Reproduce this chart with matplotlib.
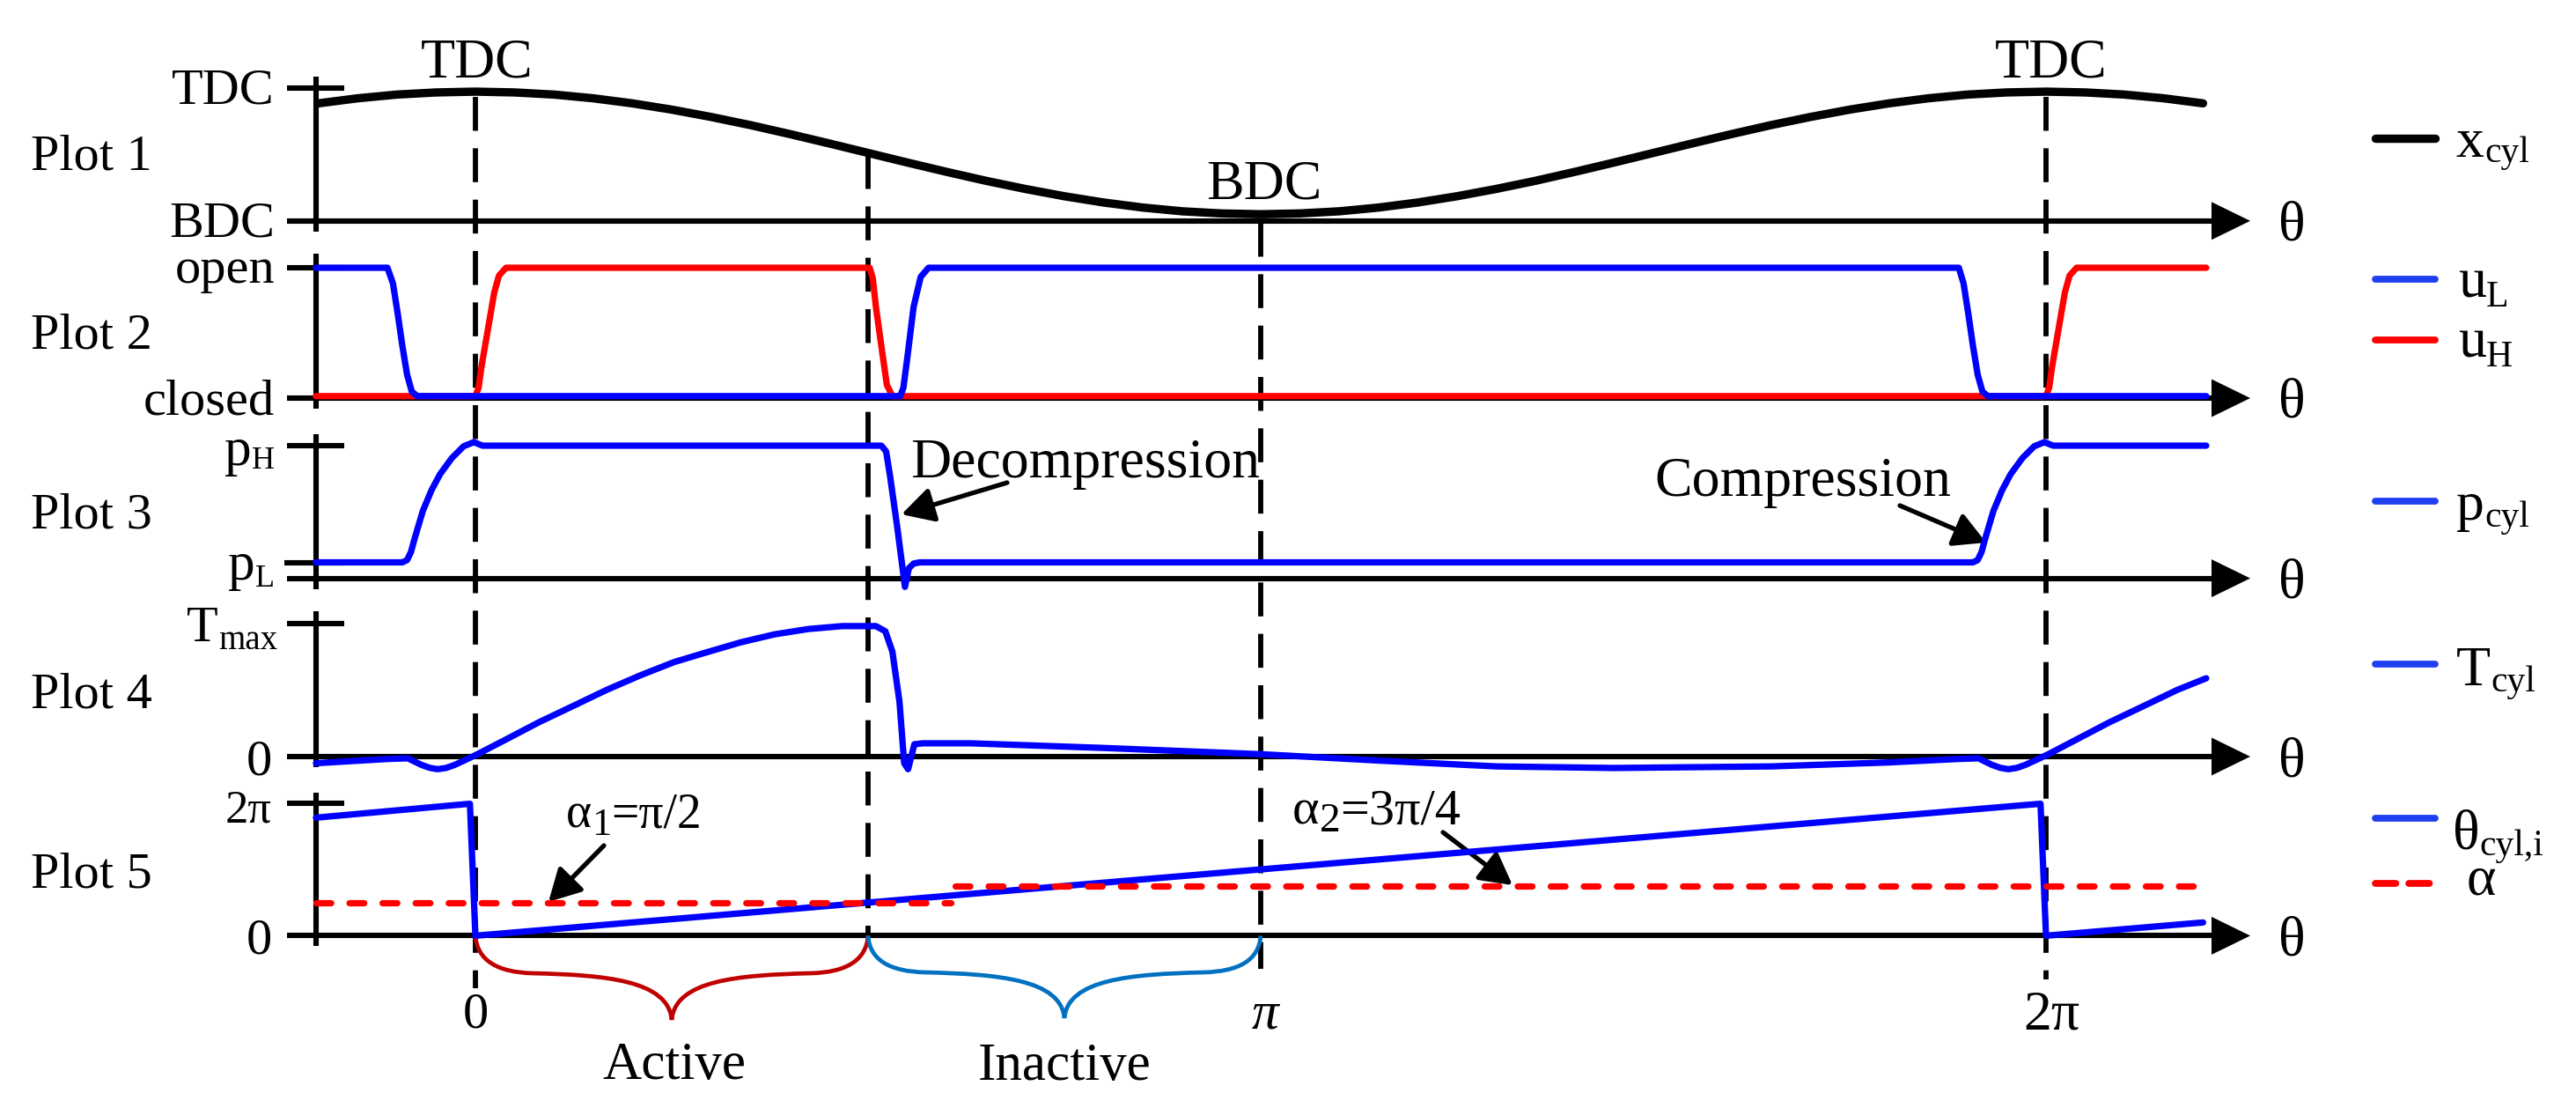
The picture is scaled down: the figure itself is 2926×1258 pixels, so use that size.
import matplotlib
matplotlib.use('Agg')
import matplotlib.pyplot as plt
from matplotlib.path import Path
from matplotlib.patches import PathPatch, Polygon
import matplotlib.transforms as mtrans

FONT = ['Liberation Serif', 'DejaVu Serif']
plt.rcParams['font.family'] = FONT

# ---------------- data (theta in units of pi) ----------------
xcyl_t = [-0.2, -0.15, -0.1, -0.05, 0.0, 0.05, 0.1, 0.15, 0.2, 0.25, 0.3, 0.35, 0.4, 0.45,
          0.5, 0.55, 0.6, 0.65, 0.7, 0.75, 0.8, 0.85, 0.9, 0.95, 1.0, 1.05, 1.1, 1.15, 1.2,
          1.25, 1.3, 1.35, 1.4, 1.45, 1.5, 1.55, 1.6, 1.65, 1.7, 1.75, 1.8, 1.85, 1.9, 1.95,
          2.0, 2.05, 2.1, 2.15, 2.2]
xcyl_v = [0.882, 0.920, 0.948, 0.964, 0.970, 0.964, 0.948, 0.920, 0.882, 0.835, 0.780, 0.719,
          0.652, 0.582, 0.510, 0.438, 0.368, 0.301, 0.240, 0.185, 0.138, 0.100, 0.072, 0.056,
          0.050, 0.056, 0.072, 0.100, 0.138, 0.185, 0.240, 0.301, 0.368, 0.438, 0.510, 0.582,
          0.652, 0.719, 0.780, 0.835, 0.882, 0.920, 0.948, 0.964, 0.970, 0.964, 0.948, 0.920,
          0.882]

uL_t = [-0.203, -0.112, -0.105, -0.099, -0.093, -0.087, -0.081, -0.074,
        0.541, 0.545, 0.550, 0.558, 0.567, 0.577,
        1.889, 1.895, 1.901, 1.907, 1.913, 1.919, 1.926, 2.204]
uL_v = [1.0, 1.0, 0.88, 0.65, 0.40, 0.18, 0.05, 0.015,
        0.015, 0.08, 0.31, 0.70, 0.93, 1.0,
        1.0, 0.88, 0.65, 0.40, 0.18, 0.05, 0.015, 0.015]

uH_t = [-0.203, 0.0, 0.004, 0.008, 0.016, 0.024, 0.030, 0.039,
        0.502, 0.506, 0.510, 0.519, 0.524, 0.531,
        2.0, 2.004, 2.008, 2.016, 2.024, 2.030, 2.039, 2.204]
uH_v = [0.015, 0.015, 0.08, 0.25, 0.53, 0.81, 0.94, 1.0,
        1.0, 0.92, 0.70, 0.31, 0.10, 0.015,
        0.015, 0.08, 0.25, 0.53, 0.81, 0.94, 1.0, 1.0]

p_t = [-0.203, -0.093, -0.087, -0.082, -0.078, -0.067, -0.056, -0.045, -0.030, -0.015, -0.002,
       0.009, 0.517, 0.523, 0.528, 0.537, 0.547, 0.552, 0.558, 0.566,
       1.907, 1.913, 1.918, 1.922, 1.933, 1.944, 1.955, 1.970, 1.985, 1.998, 2.009, 2.204]
p_v = [0.0, 0.0, 0.02, 0.09, 0.19, 0.44, 0.617, 0.756, 0.894, 0.995, 1.03,
       1.0, 1.0, 0.95, 0.74, 0.31, -0.21, -0.05, -0.01, 0.0,
       0.0, 0.02, 0.09, 0.19, 0.44, 0.617, 0.756, 0.894, 0.995, 1.03, 1.0, 1.0]

T_t = [-0.203, -0.112, -0.086, -0.069, -0.058, -0.048, -0.037, -0.026, 0.0016, 0.038, 0.081,
       0.124, 0.167, 0.21, 0.253, 0.297, 0.338, 0.381, 0.424, 0.467, 0.51, 0.522, 0.531,
       0.540, 0.546, 0.551, 0.559, 0.57, 0.631, 0.8, 1.0, 1.15, 1.3, 1.45, 1.65, 1.8,
       1.888, 1.914, 1.931, 1.942, 1.952, 1.963, 1.974, 2.002, 2.038, 2.081, 2.124, 2.167,
       2.204]
T_v = [-0.05, -0.018, -0.013, -0.062, -0.085, -0.095, -0.085, -0.062, 0.015, 0.126, 0.259,
       0.38, 0.502, 0.612, 0.712, 0.79, 0.861, 0.921, 0.961, 0.983, 0.983, 0.944, 0.79,
       0.413, -0.05, -0.095, 0.093, 0.10, 0.10, 0.065, 0.018, -0.03, -0.074, -0.086, -0.074,
       -0.044, -0.018, -0.013, -0.062, -0.085, -0.095, -0.085, -0.062, 0.015, 0.126, 0.259,
       0.38, 0.502, 0.59]

th_t = [-0.203, -0.007, 0.0, 1.0, 1.993, 2.0, 2.2]
th_v = [1.78, 1.99, 0.0, 1.0, 1.99, 0.0, 0.2]

alpha1_t = [-0.203, 0.605]
alpha1_v = [0.5, 0.5]
alpha2_t = [0.611, 2.204]
alpha2_v = [0.75, 0.75]

plot_names = ['Plot 1', 'Plot 2', 'Plot 3', 'Plot 4', 'Plot 5']
marks_t = [0.0, 0.5, 1.0, 2.0]

# ---------------- layout ----------------
W, H, DPI = 2926, 1258, 200
X0, U = 540.0, 892.0          # pixel x of theta=0 and pixels per pi
BLUE, RED, BLK = '#0000FF', '#FF0000', 'black'
LEG_BLUE = '#1f3ff0'
CLW = 2.6      # curve line width
ALW = 2.2      # axis line width
XLW = 3.4      # x_cyl line width

fig = plt.figure(figsize=(W / DPI, H / DPI), dpi=DPI)
ov = fig.add_axes([0, 0, 1, 1])
ov.set_xlim(0, W)
ov.set_ylim(H, 0)
ov.axis('off')
ov.patch.set_alpha(0)

xlo, xhi = (0 - X0) / U, (W - X0) / U


def px(t):
    return X0 + U * t


def make_ax(yA, vA, yB, vB):
    fA, fB = 1 - yA / H, 1 - yB / H
    scale = (vB - vA) / (fB - fA)
    lo = vA - fA * scale
    ax = fig.add_axes([0, 0, 1, 1])
    ax.set_xlim(xlo, xhi)
    ax.set_ylim(lo, lo + scale)
    ax.axis('off')
    ax.patch.set_alpha(0)
    return ax


ax1 = make_ax(250.8, 0, 99.5, 1)
ax2 = make_ax(452, 0, 304, 1)
ax3 = make_ax(638.5, 0, 506, 1)
ax4 = make_ax(859, 0, 708.3, 1)
ax5 = make_ax(1062.4, 0, 911.8, 2)

# axes frames
axis_y = [250.8, 452, 656.6, 859, 1062.4]
tick_y = [99.5, 304, 506, 708.3, 911.8]
vspan = [(87, 263), (288, 464), (493, 669), (694, 871), (900, 1074)]
for ay, ty, (v0, v1) in zip(axis_y, tick_y, vspan):
    ov.plot([326, 2513], [ay, ay], color=BLK, lw=ALW, solid_capstyle='butt', zorder=2)
    ov.plot([326, 391], [ty, ty], color=BLK, lw=ALW, solid_capstyle='butt', zorder=2)
    ov.plot([359, 359], [v0, v1], color=BLK, lw=ALW, solid_capstyle='butt', zorder=2)
    ov.add_patch(Polygon([(2512, ay - 21.5), (2556, ay), (2512, ay + 21.5)],
                         closed=True, facecolor=BLK, edgecolor='none', zorder=2))
    ov.text(2603, ay + 22, 'θ', fontsize=23, ha='center', va='baseline')
# p_L tick
ov.plot([323, 391], [638.5, 638.5], color=BLK, lw=ALW, solid_capstyle='butt', zorder=2)

# vertical dashed guide lines
blend = mtrans.blended_transform_factory(ax1.transData, ov.transData)
dash_span = {0.0: (110, 1122), 0.5: (176, 1062), 1.0: (253, 1100), 2.0: (110, 1112)}
for t in marks_t:
    y0, y1 = dash_span[t]
    ov.plot([t, t], [y0, y1], transform=blend, color=BLK, lw=2.1,
            dashes=(6.6, 3.4), solid_capstyle='butt', zorder=1.5)

# curves
ax1.plot(xcyl_t, xcyl_v, color=BLK, lw=XLW, solid_capstyle='round', clip_on=False, zorder=3)
ax2.plot(uH_t, uH_v, color=RED, lw=CLW, solid_capstyle='round', clip_on=False, zorder=3)
ax2.plot(uL_t, uL_v, color=BLUE, lw=CLW, solid_capstyle='round', clip_on=False, zorder=4)
ax3.plot(p_t, p_v, color=BLUE, lw=CLW, solid_capstyle='round', clip_on=False, zorder=3)
ax4.plot(T_t, T_v, color=BLUE, lw=CLW, solid_capstyle='round', clip_on=False, zorder=3)
ax5.plot(th_t, th_v, color=BLUE, lw=CLW, solid_capstyle='round', clip_on=False, zorder=3)
for at, av in ((alpha1_t, alpha1_v), (alpha2_t, alpha2_v)):
    ax5.plot(at, av, color=RED, lw=2.6, dashes=(2.3, 2.9), dash_capstyle='round',
             clip_on=False, zorder=4)

renderer = fig.canvas.get_renderer()


def rich(x, y, parts, ha='left'):
    objs, widths = [], []
    for s, size, dy in parts:
        t = ov.text(0, y + dy, s, fontsize=size, ha='left', va='baseline')
        widths.append(t.get_window_extent(renderer).width)
        objs.append(t)
    total = sum(widths)
    cur = x - total if ha == 'right' else (x - total / 2 if ha == 'center' else x)
    for t, w in zip(objs, widths):
        t.set_x(cur)
        cur += w


# left tick labels
ov.text(312, 118, 'TDC', fontsize=21, ha='right', va='baseline')
ov.text(312, 268.6, 'BDC', fontsize=21, ha='right', va='baseline')
ov.text(312, 321, 'open', fontsize=21, ha='right', va='baseline')
ov.text(312, 470.6, 'closed', fontsize=21, ha='right', va='baseline')
rich(312, 528, [('p', 22, 0), ('H', 13, 4)], ha='right')
rich(312, 658, [('p', 22, 0), ('L', 13, 8)], ha='right')
rich(315, 728, [('T', 21, 0), ('max', 14, 9)], ha='right')
ov.text(309, 879, '0', fontsize=21, ha='right', va='baseline')
ov.text(309, 933, '2π', fontsize=19, ha='right', va='baseline')
ov.text(309, 1082.6, '0', fontsize=21, ha='right', va='baseline')

# plot names
for name, yb in zip(plot_names, [192.8, 396, 600, 803.5, 1007]):
    ov.text(35, yb, name, fontsize=21, ha='left', va='baseline')

# top labels
ov.text(542, 87, 'TDC', fontsize=23, ha='center', va='baseline')
ov.text(2330, 87, 'TDC', fontsize=23, ha='center', va='baseline')
ov.text(1436, 226, 'BDC', fontsize=23, ha='center', va='baseline')

# legend
leg = [(156.7, BLK, XLW, None, [('x', 23, 0), ('cyl', 15, 6)], 2790, 178),
       (317, LEG_BLUE, 2.8, None, [('u', 23, 0), ('L', 15, 10)], 2792, 338),
       (386.4, RED, 2.8, None, [('u', 23, 0), ('H', 15, 10)], 2792, 406),
       (568.8, LEG_BLUE, 2.8, None, [('p', 23, 0), ('cyl', 15, 8)], 2790, 590),
       (754.4, LEG_BLUE, 2.8, None, [('T', 23, 0), ('cyl', 15, 7)], 2790, 778),
       (929.4, LEG_BLUE, 2.8, None, [('θ', 23, 0), ('cyl,i', 15, 8)], 2786, 963),
       (1002.8, RED, 2.8, (3.0, 1.9), [('α', 23, 0)], 2802, 1015.5)]
for ly, col, lw, dsh, parts, tx, tb in leg:
    kw = dict(dashes=dsh, dash_capstyle='round') if dsh else {}
    ov.plot([2698, 2766], [ly, ly], color=col, lw=lw, solid_capstyle='round', **kw)
    rich(tx, tb, parts)

# annotations
AP = dict(arrowstyle='-|>,head_length=0.55,head_width=0.3', color=BLK, lw=1.9,
          shrinkA=0, shrinkB=0, mutation_scale=20)
ov.text(1034, 542, 'Decompression', fontsize=23, ha='left', va='baseline')
ov.annotate('', xy=(1024, 584), xytext=(1144, 548), arrowprops=AP)
ov.text(1879, 563, 'Compression', fontsize=23, ha='left', va='baseline')
ov.annotate('', xy=(2256, 616), xytext=(2158, 574), arrowprops=AP)
rich(643, 939, [('α', 20, 0), ('1', 16, 9), ('=π/2', 20, 0)])
ov.annotate('', xy=(623, 1024), xytext=(686, 960), arrowprops=AP)
rich(1468, 935, [('α', 21, 0), ('2', 17, 9), ('=3π/4', 21, 0)])
ov.annotate('', xy=(1718, 1005), xytext=(1639, 945), arrowprops=AP)

# bottom tick labels
ov.text(px(0.0), 1166.5, '0', fontsize=21, ha='center', va='baseline')
ov.text(px(1.0) + 5, 1167.6, 'π', fontsize=22, ha='center', va='baseline', style='italic')
ov.text(px(2.0) + 6, 1168.6, '2π', fontsize=23, ha='center', va='baseline')


# braces
def brace(t0, t1, ytop, yh, ytip, color):
    x0, x1 = px(t0), px(t1)
    xc = (x0 + x1) / 2
    verts = [(x0, ytop),
             (x0 + 2, ytop + 28), (x0 + 25, yh - 1), (x0 + 65, yh),
             (xc - 75, yh + 2), (xc - 4, yh + 8), (xc, ytip),
             (xc + 4, yh + 8), (xc + 75, yh + 2), (x1 - 65, yh),
             (x1 - 25, yh - 1), (x1 - 2, ytop + 28), (x1, ytop)]
    codes = [Path.MOVETO] + [Path.CURVE4] * 12
    ov.add_patch(PathPatch(Path(verts, codes), facecolor='none', edgecolor=color,
                           lw=1.7, zorder=2))


brace(0.0, 0.5, 1062.4, 1105, 1158, '#C00000')
brace(0.5, 1.0, 1062.4, 1104, 1156, '#0070C0')
ov.text(766, 1225, 'Active', fontsize=22, ha='center', va='baseline')
ov.text(1209, 1225.8, 'Inactive', fontsize=22, ha='center', va='baseline')

fig.savefig('out.png', dpi=DPI)
